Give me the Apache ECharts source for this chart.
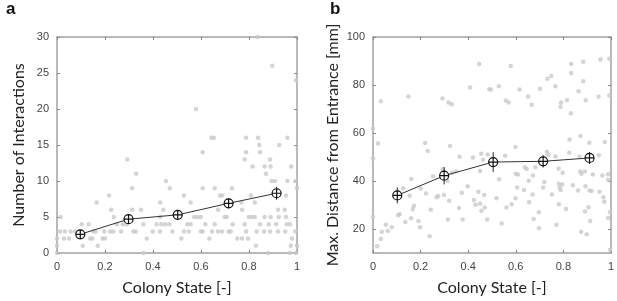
<!DOCTYPE html>
<html>
<head>
<meta charset="utf-8">
<script src="https://cdn.jsdelivr.net/npm/echarts@6.0.0/dist/echarts.min.js"></script>
<style>
html, body { margin: 0; padding: 0; background: #fff; }
#chart { width: 617px; height: 301px; }
</style>
</head>
<body>
<div id="chart"></div>
<script>
// panel a: colony state vs number of interactions (one pair per ant)
var interactionPts = [
  [0,0],[0.36,0],[0.88,0],[0.97,0],[0.996,0],
  [0,1],[0.107,1],[0.17,1],[0.829,1],[0.974,1],[1,1],
  [0,2],[0.029,2],[0.05,2],[0.138,2],[0.147,2],[0.19,2],[0.2,2],[0.374,2],[0.518,2],[0.635,2],[0.751,2],[0.771,2],[0.796,2],[0.979,2],
  [0.013,3],[0.033,3],[0.057,3],[0.076,3],[0.151,3],[0.161,3],[0.197,3],[0.221,3],[0.235,3],[0.267,3],[0.318,3],[0.329,3],[0.399,3],[0.429,3],[0.481,3],[0.529,3],[0.549,3],[0.599,3],[0.607,3],[0.646,3],[0.671,3],[0.688,3],[0.715,3],[0.724,3],[0.788,3],[0.832,3],[0.863,3],[0.888,3],[0.921,3],[0.951,3],[0.993,3],
  [0.103,4],[0.132,4],[0.249,4],[0.274,4],[0.29,4],[0.36,4],[0.415,4],[0.435,4],[0.451,4],[0.468,4],[0.543,4],[0.557,4],[0.618,4],[0.657,4],[0.732,4],[0.782,4],[0.846,4],[0.882,4],[0.913,4],[0.957,4],[0.971,4],
  [0.015,5],[0.237,5],[0.43,5],[0.571,5],[0.585,5],[0.599,5],[0.699,5],[0.707,5],[0.799,5],[0.813,5],[0.824,5],[0.865,5],[0.89,5],[0.924,5],[0.954,5],
  [0.226,6],[0.313,6],[0.35,6],[0.443,6],[0.671,6],[0.771,6],[0.921,6],[0.949,6],
  [0.165,7],[0.43,7],[0.557,7],[0.768,7],[0.824,7],
  [0.217,8],[0.529,8],[0.679,8],[0.688,8],[0.808,8],[0.954,8],
  [0.313,9],[0.47,9],[0.607,9],[0.657,9],[0.729,9],[1,9],
  [0.454,10],[0.894,10],[0.908,10],[0.96,10],[0.993,10],
  [0.33,11],[0.871,11],
  [0.815,12],[0.865,12],[0.89,12],[0.976,12],
  [0.293,13],[0.782,13],[0.888,13],
  [0.607,14],[0.788,14],[0.846,14],
  [0.843,15],[0.926,15],
  [0.643,16],[0.654,16],[0.788,16],[0.838,16],[0.96,16],
  [0.579,20],[0.996,24],[0.897,26],[0.836,30]
]
var meanStateA = [0.097, 0.298, 0.503, 0.715, 0.915]
var meanInteractions = [2.6, 4.7, 5.3, 6.9, 8.3]
var errInteractions = [0.6, 0.6, 0.6, 0.7, 0.9]

// panel b: colony state vs max distance from entrance
var distancePts = [
  [0.446,88.7],[0.408,79],[0.489,78.2],[0.149,75.2],[0.033,73.2],[0.292,74.4],[0.317,72.7],[0.331,72],
  [0,61.8],[0.021,55.6],[0.219,55.8],[0.324,54.6],[0.579,87.9],[0.833,88.8],[0.884,89.7],[0.956,90.6],
  [0.993,90.9],[0.833,85],[0.749,83.8],[0.733,82.6],[0.884,81.6],[0.766,79.5],[0.495,78.1],[0.529,79.5],
  [0.616,78.1],[0.702,78.4],[0.864,77.4],[0.652,75.2],[0.948,75.1],[0.993,75.6],[0.558,73.5],[0.57,72.7],
  [0.667,71.8],[0.815,73.6],[0.894,73.6],[0.79,72.7],[0.788,70.9],[0.832,68.2],[0.826,57.3],[0.872,58.8],
  [0.909,55.9],[0.974,56.2],[0.599,54.2],[0,49.5],[0.23,52.5],[0.364,50.1],[0.42,49.8],[0.463,48.9],
  [0.482,51],[0.45,44.2],[0.252,42],[0.161,40.8],[0.293,45],[0.332,43.4],[0.35,44],[0.313,40],
  [0.398,37.8],[0.443,35.5],[0.467,34.2],[0.127,37],[0.154,33.9],[0.201,36.9],[0.223,34.8],[0.267,33.2],
  [0.274,33.8],[0.298,34.2],[0.32,31.8],[0.373,35.1],[0.424,32.1],[0.431,30.1],[0.45,30.5],[0.456,27.6],
  [0.47,29],[0.172,29.7],[0.167,28.2],[0.243,28],[0.106,25.7],[0.112,26.1],[0.136,22.9],[0.16,24.5],
  [0.191,23.3],[0.198,20.7],[0.315,24],[0.377,24],[0.48,24],[0.362,28.7],[0,25],[0.054,21.8],
  [0.062,19.2],[0.079,20.7],[0.037,18.9],[0.033,15.8],[0.017,12.8],[0.238,17],[0.731,52.2],[0.737,50.9],
  [0.767,50.2],[0.825,51.8],[0.868,50.2],[0.92,49.7],[0.949,50.7],[0.555,50.5],[0.638,45.7],[0.646,45],
  [0.682,45.7],[0.672,42.3],[0.6,43],[0.609,42.7],[0.78,45.2],[0.797,43.4],[0.871,44],[0.876,43],
  [0.89,44],[0.924,42.7],[0.964,42.3],[0.988,42.8],[0.53,40.7],[0.654,40.1],[0.72,39.6],[0.781,38.9],
  [0.795,38.5],[0.84,38.2],[0.893,37.8],[0.988,40.5],[0.785,37.3],[0.789,36.2],[0.862,36],[0.91,36],
  [0.919,35.8],[0.952,35.5],[0.606,37.3],[0.635,36.2],[0.715,37.3],[0.671,34.4],[0.752,34.4],[0.519,32.8],
  [0.599,32.8],[0.968,33.2],[0.656,31.1],[0.583,30.3],[0.561,29],[0.781,30.3],[0.906,29.1],[0.972,31.4],
  [0.811,28.3],[0.697,27],[0.891,27.3],[0.996,27],[0.675,24.2],[0.988,24.6],[0.541,22.3],[0.771,21.8],
  [0.698,20.3],[0.913,23.3],[0.875,18.9],[0.898,17.8],[0.996,11.4],[0.455,51.4]
]
var meanStateB = [0.102, 0.299, 0.505, 0.715, 0.91]
var meanDistance = [34, 42.2, 47.9, 48.2, 49.6]
var errDistance = [3.3, 3.6, 4.1, 2.6, 2.5]

var stateTicks = [0, 0.2, 0.4, 0.6, 0.8, 1]
var distanceTicks = [20, 40, 60, 80, 100]

var frameColor = '#a3a3a3'
var labelFont = 'Liberation Sans'
var titleFont = 'Lato'
var markerPath = 'path://M10,0A10,10,0,1,1,-10,0A10,10,0,1,1,10,0ZM-10,0L10,0M0,-10L0,10'

var myChart = echarts.init(document.getElementById('chart'))

function frameAxis (extra) {
  var ax = {
    type: 'value',
    axisLine: { show: true, onZero: false, lineStyle: { color: frameColor, width: 1.5 } },
    axisTick: { show: true, inside: true, length: 3, lineStyle: { color: '#888', width: 1 } },
    splitLine: { show: false },
    axisLabel: { show: false },
  }
  return Object.assign(ax, extra)
}

function mainLabel () {
  return { show: true, color: '#444', fontSize: 11, fontFamily: labelFont, margin: 8 }
}

function nameStyle () {
  return { color: '#222', fontSize: 16, fontFamily: titleFont }
}

function zip3 (xs, ys, es) {
  return xs.map(function (x, i) { return [x, ys[i], es[i]] })
}

function errorBars (xi, yi, data) {
  return {
    type: 'custom',
    xAxisIndex: xi,
    yAxisIndex: yi,
    z: 3,
    encode: { x: 0, y: 1 },
    data: data,
    renderItem: function (params, api) {
      var x = api.value(0), y = api.value(1), e = api.value(2)
      var p1 = api.coord([x, y - e])
      var p2 = api.coord([x, y + e])
      return {
        type: 'line',
        shape: { x1: p1[0], y1: p1[1], x2: p2[0], y2: p2[1] },
        style: { stroke: '#222', lineWidth: 1 },
      }
    },
  }
}

function meanLine (xi, yi, xs, ys) {
  return {
    type: 'line',
    xAxisIndex: xi,
    yAxisIndex: yi,
    z: 4,
    data: xs.map(function (x, i) { return [x, ys[i]] }),
    symbol: markerPath,
    symbolSize: 9,
    lineStyle: { color: '#333', width: 1 },
    itemStyle: { color: '#fff', borderColor: '#111', borderWidth: 1.2 },
  }
}

var option = {
  animation: false,
  title: [
    { text: 'a', left: 1, top: -4, textStyle: { fontSize: 17, fontWeight: 'bold', fontFamily: 'Liberation Sans', color: '#111' } },
    { text: 'b', left: 325, top: -4, textStyle: { fontSize: 17, fontWeight: 'bold', fontFamily: 'Liberation Sans', color: '#111' } },
  ],
  grid: [
    { left: 57, top: 37, width: 240, height: 221 },
    { left: 373, top: 37, width: 242, height: 221 },
  ],
  xAxis: [
    frameAxis({ gridIndex: 0, position: 'bottom', min: 0, max: 1, interval: 0.2, axisLabel: mainLabel(),
      name: 'Colony State [-]', nameLocation: 'middle', nameGap: 27, nameTextStyle: nameStyle() }),
    frameAxis({ gridIndex: 0, position: 'top', min: 0, max: 1, interval: 0.2 }),
    frameAxis({ gridIndex: 1, position: 'bottom', min: 0, max: 1, interval: 0.2, axisLabel: mainLabel(),
      name: 'Colony State [-]', nameLocation: 'middle', nameGap: 27, nameTextStyle: nameStyle() }),
    frameAxis({ gridIndex: 1, position: 'top', min: 0, max: 1, interval: 0.2 }),
  ],
  yAxis: [
    frameAxis({ gridIndex: 0, position: 'left', min: 0, max: 30, interval: 5, axisLabel: mainLabel(),
      name: 'Number of Interactions', nameLocation: 'middle', nameGap: 30, nameTextStyle: nameStyle() }),
    frameAxis({ gridIndex: 0, position: 'right', min: 0, max: 30, interval: 5 }),
    frameAxis({ gridIndex: 1, position: 'left', min: 10, max: 100,
      axisLabel: Object.assign(mainLabel(), { customValues: distanceTicks }),
      axisTick: { show: true, inside: true, length: 3, customValues: distanceTicks, lineStyle: { color: '#888', width: 1 } },
      name: 'Max. Distance from Entrance [mm]', nameLocation: 'middle', nameGap: 32, nameTextStyle: nameStyle() }),
    frameAxis({ gridIndex: 1, position: 'right', min: 10, max: 100,
      axisTick: { show: true, inside: true, length: 3, customValues: distanceTicks, lineStyle: { color: '#888', width: 1 } } }),
  ],
  series: [
    {
      type: 'scatter', xAxisIndex: 0, yAxisIndex: 0, z: 2,
      symbolSize: 4.5, itemStyle: { color: '#c9c9c9' },
      data: interactionPts,
    },
    errorBars(0, 0, zip3(meanStateA, meanInteractions, errInteractions)),
    meanLine(0, 0, meanStateA, meanInteractions),
    {
      type: 'scatter', xAxisIndex: 2, yAxisIndex: 2, z: 2,
      symbolSize: 4.5, itemStyle: { color: '#c9c9c9' },
      data: distancePts,
    },
    errorBars(2, 2, zip3(meanStateB, meanDistance, errDistance)),
    meanLine(2, 2, meanStateB, meanDistance),
  ],
}

myChart.setOption(option)
window.onresize = myChart.resize
</script>
</body>
</html>
